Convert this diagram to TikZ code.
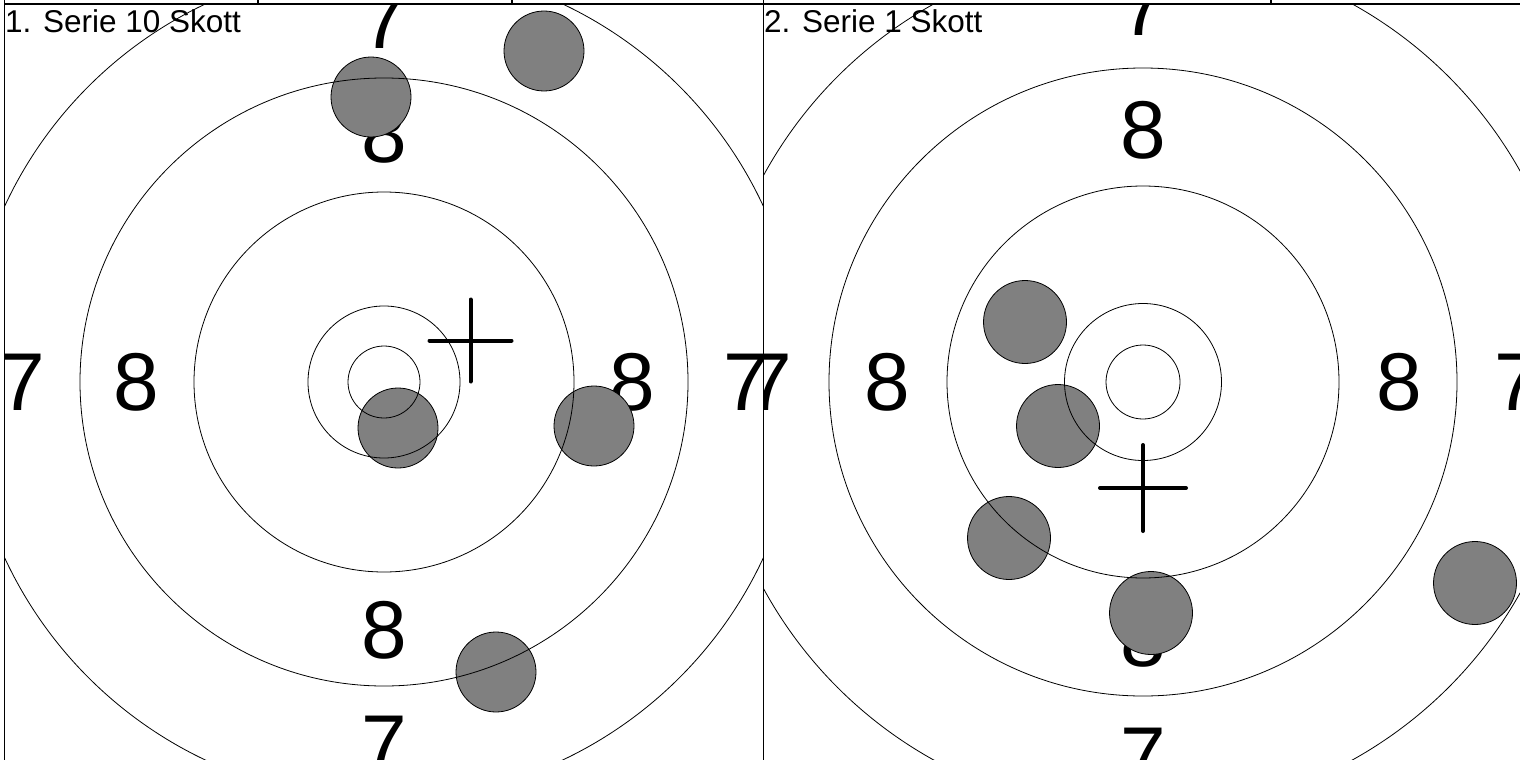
\documentclass[tikz,border=0pt]{standalone}
\usepackage{fontspec}
\setmainfont{Liberation Sans}
\usetikzlibrary{positioning}

\begin{document}
\begin{tikzpicture}[
		x=1pt, y=-1pt,
		ring/.style={draw, line width=0.8pt},
		shot/.style={circle, draw, fill=gray, line width=0.8pt, inner sep=0pt, minimum size=80pt},
		shotB/.style={shot, minimum size=83pt},
		score/.style={inner sep=0pt, font=\fontsize{82}{82}\selectfont},
		aim/.style={line width=4pt, line cap=round},
		caption/.style={anchor=base west, inner sep=0pt, font=\fontsize{31.5}{36}\selectfont},
		frame/.style={line width=1.2pt}
	]
	\useasboundingbox (0,0) rectangle (1520,760);

	% first series
	\begin{scope}
		\clip (4.5,4) rectangle (763.3,760);
		\coordinate (C1) at (384,382);
		\node[score] (A7l) at (22,382) {7};
		\node[score] (A8l) at (136,382) {8};
		\node[score] (A8r) at (632,382) {8};
		\node[score] (A7r) at (746,382) {7};
		\node[score] (A7t) at (384,20) {7};
		\node[score] (A8t) at (384,134) {8};
		\node[score] (A8b) at (384,630) {8};
		\node[score] (A7b) at (384,744) {7};

		\node[shot] (A1) at (371,97) {};
		\node[shot] (A2) at (544,51) {};
		\node[shot] (A3) at (398,428) {};
		\node[shot] (A4) at (594,426) {};
		\node[shot] (A5) at (496,672) {};

		\draw[ring] (C1) circle[radius=36pt];
		\draw[ring] (C1) circle[radius=76pt];
		\draw[ring] (C1) circle[radius=190pt];
		\draw[ring] (C1) circle[radius=304pt];
		\draw[ring] (C1) circle[radius=418pt];

		\coordinate (aimA) at (470.5,340.5);
		\draw[aim] ([xshift=-41pt]aimA) -- ([xshift=41pt]aimA);
		\draw[aim] ([yshift=41pt]aimA) -- ([yshift=-41pt]aimA);
	\end{scope}

	% second series
	\begin{scope}
		\clip (763.3,4) rectangle (1520,760);
		\coordinate (C2) at (1143,382);
		\node[score] (B7l) at (769,382) {7};
		\node[score] (B8l) at (887,382) {8};
		\node[score] (B8r) at (1399,382) {8};
		\node[score] (B7r) at (1517,382) {7};
		\node[score] (B7t) at (1143,7) {7};
		\node[score] (B8t) at (1143,130) {8};
		\node[score] (B8b) at (1143,638) {8};
		\node[score] (B7b) at (1143,756) {7};

		\node[shotB] (B1) at (1025,322) {};
		\node[shotB] (B2) at (1058,426) {};
		\node[shotB] (B3) at (1009,538) {};
		\node[shotB] (B4) at (1151,613) {};
		\node[shotB] (B5) at (1475,583) {};

		\draw[ring] (C2) circle[radius=37pt];
		\draw[ring] (C2) circle[radius=78.5pt];
		\draw[ring] (C2) circle[radius=196pt];
		\draw[ring] (C2) circle[radius=314pt];
		\draw[ring] (C2) circle[radius=432pt];

		\coordinate (aimB) at (1143,488);
		\draw[aim] ([xshift=-43pt]aimB) -- ([xshift=43pt]aimB);
		\draw[aim] ([yshift=43pt]aimB) -- ([yshift=-43pt]aimB);
	\end{scope}

	% table lines
	\coordinate (T0) at (4.5,4);
	\coordinate (T1) at (1520,4);
	\draw[frame] (T0) -- (T1);
	\draw[frame] (4.5,0) -- (4.5,760);
	\draw[frame] (763.3,0) -- (763.3,760);
	\draw[frame] (258,0) -- (258,4);
	\draw[frame] (512,0) -- (512,4);
	\draw[frame] (1271,0) -- (1271,4);

	\node[caption] (capA) at (5,33) {1. Serie 10 Skott};
	\node[caption] (capB) at (764,33) {2. Serie 1 Skott};
\end{tikzpicture}
\end{document}
